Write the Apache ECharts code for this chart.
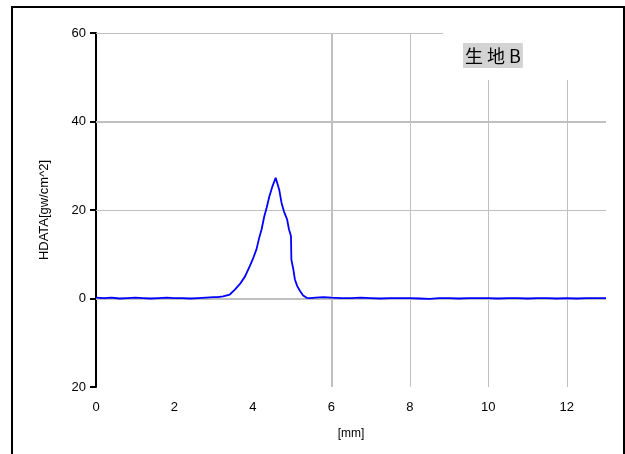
<!DOCTYPE html>
<html>
<head>
<meta charset="utf-8">
<script src="https://cdn.jsdelivr.net/npm/echarts@6/dist/echarts.min.js"></script>
<style>html,body{margin:0;padding:0;background:#fff}#c{width:625px;height:454px}</style>
</head>
<body>
<div id="c"></div>
<script>
// Data
const xPos = [0,0.2,0.4,0.6,0.8,1.0,1.2,1.4,1.6,1.8,2.0,2.2,2.4,2.6,2.8,3.0,3.1,
  3.24,3.41,3.54,3.67,3.80,3.92,4.01,4.09,4.16,4.22,4.29,4.35,4.42,4.50,4.58,4.63,4.67,4.73,4.79,4.87,4.92,4.97,4.98,5.03,5.07,5.13,5.20,5.28,5.37,5.45,
  5.6,5.8,6.0,6.25,6.5,6.75,7.0,7.25,7.5,7.75,8.0,8.25,8.5,8.75,9.0,9.25,9.5,9.75,10.0,10.25,10.5,10.75,11.0,11.25,11.5,11.75,12.0,12.25,12.5,12.75,13.0];
const hdata = [0.2,0.1,0.2,0.0,0.1,0.2,0.1,0.0,0.1,0.2,0.1,0.1,0.0,0.1,0.2,0.3,0.3,
  0.5,0.9,2.0,3.3,5.0,7.3,9.2,11.1,13.7,15.6,18.6,20.5,23.1,25.4,27.3,26.9,24.6,21.6,19.7,17.9,15.6,14.1,8.8,6.6,4.3,2.8,1.7,0.7,0.15,0.1,
  0.2,0.3,0.2,0.1,0.1,0.2,0.1,0.0,0.1,0.1,0.1,0.0,-0.1,0.1,0.1,0.0,0.1,0.1,0.1,0.0,0.1,0.1,0.0,0.1,0.1,0.0,0.1,0.0,0.1,0.1,0.1];
const xTicks = [0,2,4,6,8,10,12];
const yTicks = [-20,0,20,40,60];
const titleText = '生 地 B';
const yName = 'HDATA[gw/cm^2]';
const xName = '[mm]';

const chart = echarts.init(document.getElementById('c'), null, {renderer:'canvas'});
const grey = '#c0c0c0';
const seriesData = xPos.map((x,i)=>[x,hdata[i]]);
chart.setOption({
  animation:false,
  backgroundColor:'#fff',
  grid:{left:96,top:33,right:19,bottom:67,containLabel:false},
  xAxis:{type:'value',min:0,max:13,interval:2,
    name:xName,nameLocation:'middle',nameGap:41,
    nameTextStyle:{color:'#000',fontSize:12,fontFamily:'Liberation Sans'},
    axisLine:{show:false},axisTick:{show:false},splitLine:{show:false},
    axisLabel:{color:'#000',fontSize:13,fontFamily:'Liberation Sans',margin:14,showMaxLabel:false,
      formatter:v=>xTicks.indexOf(v)>=0?String(v):''}},
  yAxis:{type:'value',min:-20,max:60,interval:20,
    name:yName,nameLocation:'middle',nameGap:45,nameRotate:90,
    nameTextStyle:{color:'#000',fontSize:13,fontFamily:'Liberation Sans'},
    axisLine:{show:true,lineStyle:{color:'#000',width:2}},
    axisTick:{show:true,length:6,lineStyle:{color:'#000',width:2}},
    splitLine:{show:false},
    axisLabel:{color:'#000',fontSize:13,fontFamily:'Liberation Sans',margin:10,
      formatter:v=>yTicks.indexOf(v)>=0?String(Math.abs(v)):''}},
  series:[
    {type:'line',data:[],silent:true,
     markLine:{silent:true,symbol:'none',label:{show:false},animation:false,
       data:[
        [{coord:[0,60],lineStyle:{color:grey,width:1,type:'solid'}},{coord:[8.85,60]}],
        [{coord:[0,40],lineStyle:{color:grey,width:2,type:'solid'}},{coord:[13,40]}],
        [{coord:[0,20],lineStyle:{color:grey,width:1,type:'solid'}},{coord:[13,20]}],
        [{coord:[0,0],lineStyle:{color:grey,width:2,type:'solid'}},{coord:[13,0]}],
        [{coord:[6,-20],lineStyle:{color:grey,width:2,type:'solid'}},{coord:[6,60]}],
        [{coord:[8,-20],lineStyle:{color:grey,width:1,type:'solid'}},{coord:[8,60]}],
        [{coord:[10,-20],lineStyle:{color:grey,width:1,type:'solid'}},{coord:[10,49.4]}],
        [{coord:[12,-20],lineStyle:{color:grey,width:1,type:'solid'}},{coord:[12,49.4]}]
       ]}},
    {type:'line',data:seriesData,symbol:'none',smooth:false,
     lineStyle:{color:'#0000ff',width:1.8},z:5}
  ],
  graphic:[
    {type:'polyline',shape:{points:[[12,454],[12,7],[624,7],[624,454]]},
     style:{stroke:'#000',lineWidth:2,fill:null},z:10},
    {type:'text',left:463,top:43,z:10,
     style:{text:titleText,fill:'#000',font:'18px "Noto Sans CJK JP"',
       backgroundColor:'#d3d3d3',padding:[4,2,3,2]}}
  ]
});
</script>
</body>
</html>
